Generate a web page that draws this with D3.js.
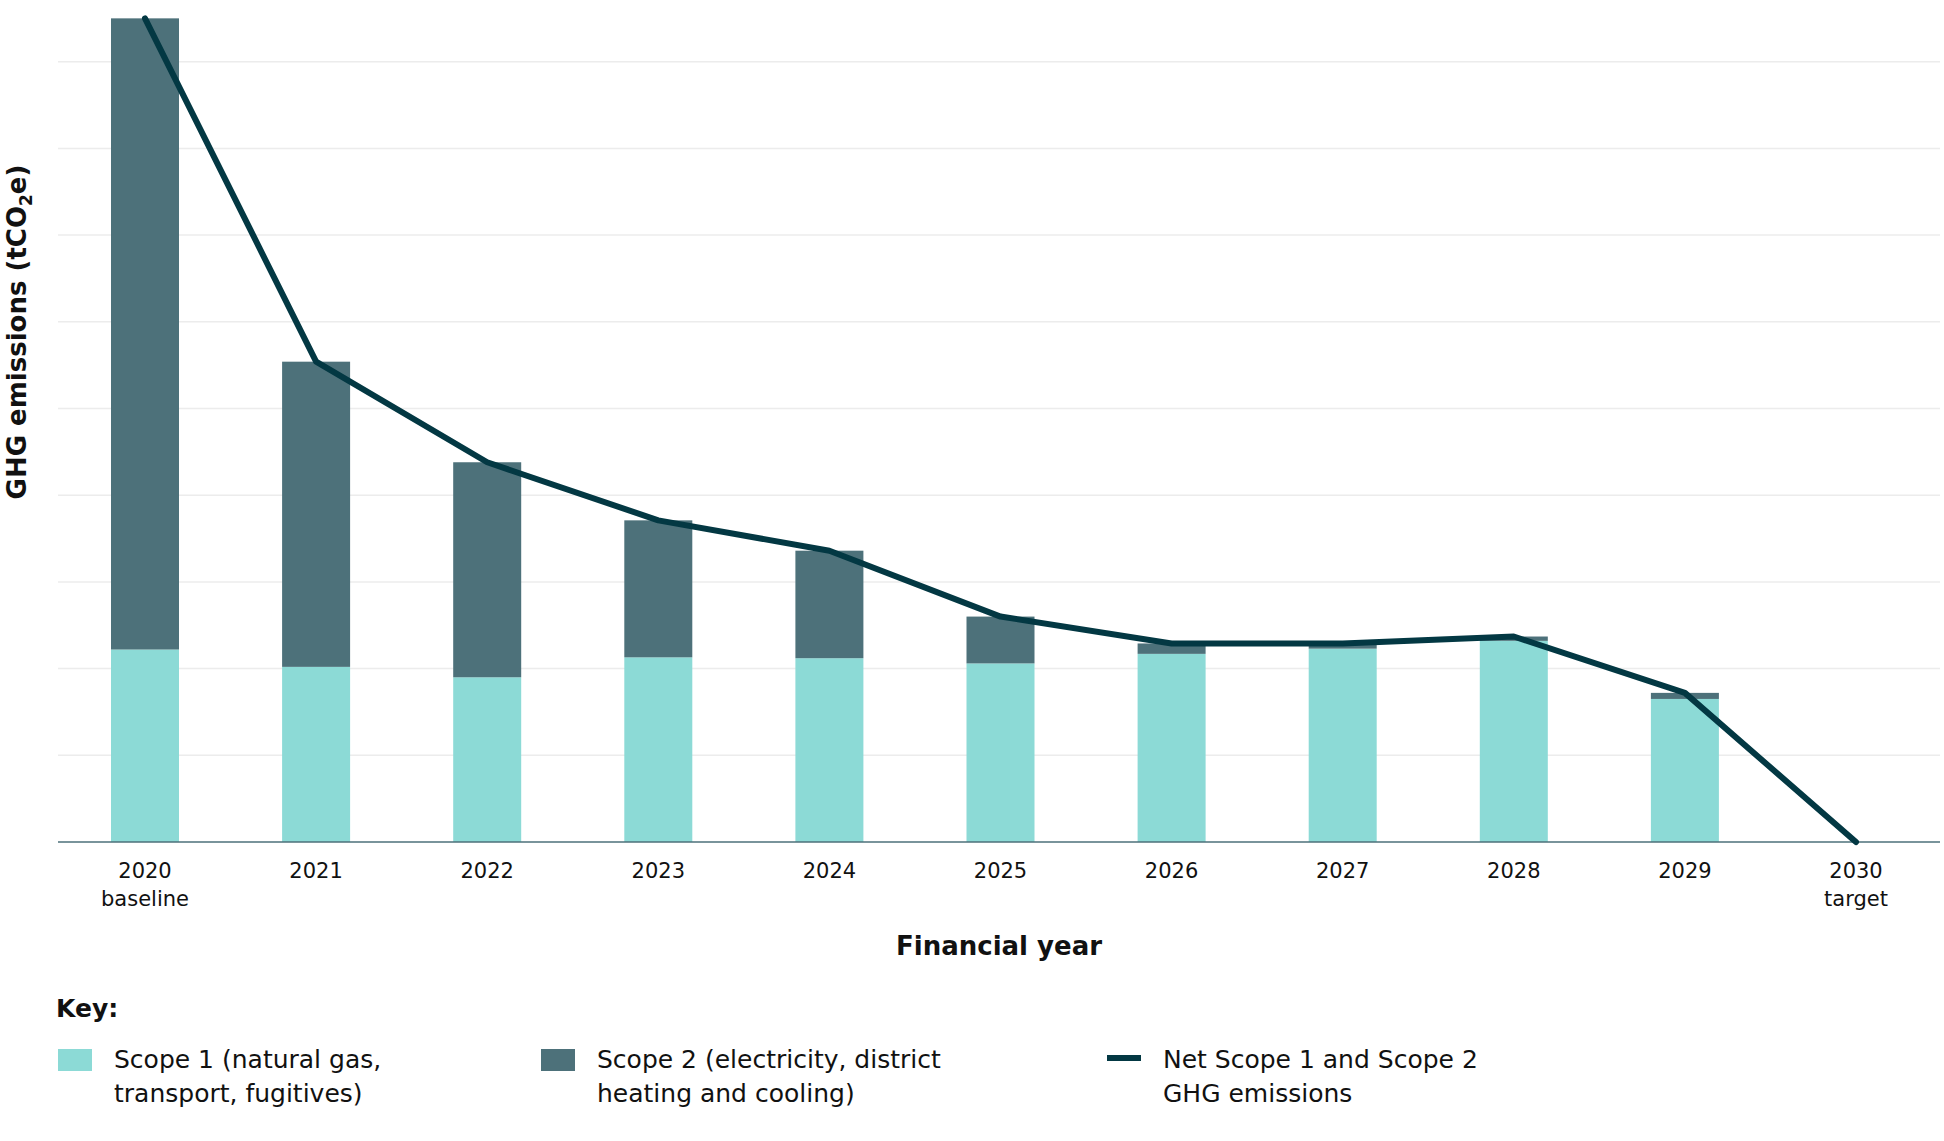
<!DOCTYPE html>
<html><head><meta charset="utf-8">
<script src="https://cdn.jsdelivr.net/npm/d3@7"></script>
<style>body{margin:0;background:#fff}text{font-family:"DejaVu Sans",Verdana,sans-serif;fill:#111}</style>
</head><body><svg id="c" width="1944" height="1141"></svg>
<script>
// values in gridline units (y axis has no labels in the source)
const years = ["2020","2021","2022","2023","2024","2025","2026","2027","2028","2029","2030"];
const subLabels = ["baseline","","","","","","","","","","target"];
const scope1 = [2.22,2.02,1.90,2.13,2.12,2.06,2.17,2.23,2.32,1.65,0];
const scope2 = [7.28,3.52,2.48,1.58,1.24,0.54,0.12,0.06,0.05,0.07,0];
const netLine = [9.5,5.54,4.38,3.71,3.36,2.60,2.29,2.29,2.37,1.72,0];
const gridVals = [1,2,3,4,5,6,7,8,9];

const svg = d3.select("#c");
const left = 58, right = 1940, base = 842;
const x = d3.scalePoint().domain(years).range([145,1856]);
const y = d3.scaleLinear().domain([0,9.5]).range([base, base - 9.5*86.7]);
const bw = 68;

svg.append("g").selectAll("line").data(gridVals).join("line")
  .attr("x1",left).attr("x2",right).attr("y1",d=>y(d)).attr("y2",d=>y(d))
  .attr("stroke","#ececec").attr("stroke-width",1.5);

svg.append("g").selectAll("rect").data(years).join("rect")
  .attr("x",(d)=>x(d)-bw/2).attr("width",bw)
  .attr("y",(d,i)=>y(scope1[i])).attr("height",(d,i)=>base-y(scope1[i]))
  .attr("fill","#8cdad6");
svg.append("g").selectAll("rect").data(years).join("rect")
  .attr("x",(d)=>x(d)-bw/2).attr("width",bw)
  .attr("y",(d,i)=>y(scope1[i]+scope2[i])).attr("height",(d,i)=>y(scope1[i])-y(scope1[i]+scope2[i]))
  .attr("fill","#4d717a");

svg.append("line").attr("x1",left).attr("x2",right).attr("y1",base).attr("y2",base)
  .attr("stroke","#4d717a").attr("stroke-width",1.5);

svg.append("path").datum(years)
  .attr("d", d3.line().x(d=>x(d)).y((d,i)=>y(netLine[i])))
  .attr("fill","none").attr("stroke","#033843").attr("stroke-width",6).attr("stroke-linecap","round").attr("stroke-linejoin","round");

const tl = svg.append("g").selectAll("text").data(years).join("text")
  .attr("x",d=>x(d)).attr("y",878).attr("text-anchor","middle").attr("font-size",21);
tl.append("tspan").text(d=>d);
tl.append("tspan").attr("x",d=>x(d)).attr("dy",28).text((d,i)=>subLabels[i]);

svg.append("text").attr("x",(left+right)/2).attr("y",955).attr("text-anchor","middle")
  .attr("font-size",26).attr("font-weight","bold").text("Financial year");

const yt = svg.append("text").attr("transform","translate(26,332) rotate(-90)")
  .attr("text-anchor","middle").attr("font-size",26).attr("font-weight","bold");
yt.append("tspan").text("GHG emissions (tCO");
yt.append("tspan").attr("font-size",17).attr("dy",6).text("2");
yt.append("tspan").attr("dy",-6).text("e)");

svg.append("text").attr("x",56).attr("y",1017).attr("font-size",25).attr("font-weight","bold").text("Key:");
const lg = [
  {x:58, t:["Scope 1 (natural gas,","transport, fugitives)"], c:"#8cdad6", line:false},
  {x:541, t:["Scope 2 (electricity, district","heating and cooling)"], c:"#4d717a", line:false},
  {x:1107, t:["Net Scope 1 and Scope 2","GHG emissions"], c:"#033843", line:true}
];
lg.forEach(l=>{
  if(l.line) svg.append("line").attr("x1",l.x).attr("x2",l.x+34).attr("y1",1058).attr("y2",1058).attr("stroke",l.c).attr("stroke-width",6);
  else svg.append("rect").attr("x",l.x).attr("y",1049).attr("width",34).attr("height",22).attr("fill",l.c);
  const t = svg.append("text").attr("x",l.x+56).attr("y",1068).attr("font-size",25);
  t.append("tspan").text(l.t[0]);
  t.append("tspan").attr("x",l.x+56).attr("dy",34).text(l.t[1]);
});
</script></body></html>
